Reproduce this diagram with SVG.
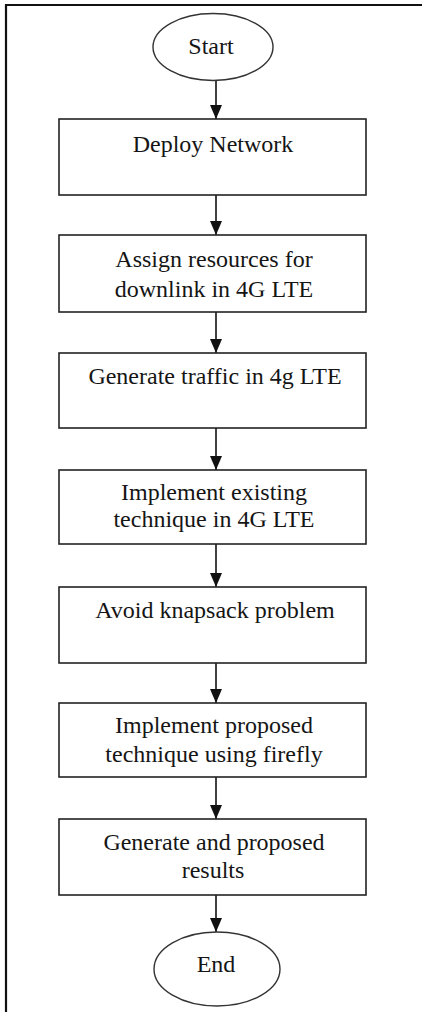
<svg xmlns="http://www.w3.org/2000/svg" width="422" height="1012" viewBox="0 0 422 1012">
  <style>
    .box { fill: #ffffff; stroke: #222222; stroke-width: 1.6; }
    .term { fill: #ffffff; stroke: #333333; stroke-width: 1.4; }
    .lbl { font-size: 24px; fill: #151515; text-anchor: middle; }
    .edge { stroke: #111111; stroke-width: 1.6; fill: none; marker-end: url(#head); }
    .frame { stroke: #111111; stroke-width: 2.2; fill: none; }
  </style>
  <defs>
    <!-- solid arrowhead, tip at the end of the line -->
    <marker id="head" markerUnits="userSpaceOnUse" markerWidth="14" markerHeight="12" refX="14" refY="6" orient="auto" viewBox="0 0 14 12">
      <path d="M0,0 L14,6 L0,12 Z" fill="#111111"/>
    </marker>
  </defs>

  <rect width="422" height="1012" fill="#ffffff"/>

  <!-- outer frame: top and left rules -->
  <path class="frame" d="M6,1012 L6,5 L422,5"/>

  <!-- connectors -->
  <g id="connectors">
    <line class="edge" x1="216" y1="80.5" x2="216" y2="119"/>
    <line class="edge" x1="216" y1="195" x2="216" y2="235"/>
    <line class="edge" x1="216" y1="312" x2="216" y2="353"/>
    <line class="edge" x1="216" y1="428" x2="216" y2="470"/>
    <line class="edge" x1="216" y1="544" x2="216" y2="587"/>
    <line class="edge" x1="216" y1="663" x2="216" y2="703"/>
    <line class="edge" x1="216" y1="777" x2="216" y2="819"/>
    <line class="edge" x1="216" y1="895" x2="216" y2="932"/>
  </g>

  <g font-family="'Liberation Serif', 'DejaVu Serif', serif">
    <g id="start">
      <ellipse class="term" cx="213" cy="47" rx="60" ry="33.5"/>
      <text class="lbl" x="211" y="54">Start</text>
    </g>

    <g id="deploy">
      <rect class="box" x="59" y="119" width="307" height="76"/>
      <text class="lbl" x="213" y="152">Deploy Network</text>
    </g>

    <g id="assign">
      <rect class="box" x="59" y="235" width="307" height="77"/>
      <text class="lbl" x="214" y="267">Assign resources for</text>
      <text class="lbl" x="214" y="297">downlink in 4G LTE</text>
    </g>

    <g id="traffic">
      <rect class="box" x="59" y="353" width="307" height="75"/>
      <text class="lbl" x="215" y="384">Generate traffic in 4g LTE</text>
    </g>

    <g id="existing">
      <rect class="box" x="59" y="470" width="307" height="74"/>
      <text class="lbl" x="214" y="500">Implement existing</text>
      <text class="lbl" x="214" y="527">technique in 4G LTE</text>
    </g>

    <g id="knapsack">
      <rect class="box" x="59" y="587" width="307" height="76"/>
      <text class="lbl" x="215" y="618">Avoid knapsack problem</text>
    </g>

    <g id="proposed">
      <rect class="box" x="59" y="703" width="307" height="74"/>
      <text class="lbl" x="214" y="733">Implement proposed</text>
      <text class="lbl" x="214" y="762">technique using firefly</text>
    </g>

    <g id="results">
      <rect class="box" x="59" y="819" width="307" height="76"/>
      <text class="lbl" x="214" y="850">Generate and proposed</text>
      <text class="lbl" x="213" y="878">results</text>
    </g>

    <g id="end">
      <ellipse class="term" cx="217" cy="969" rx="63" ry="37"/>
      <text class="lbl" x="216" y="972">End</text>
    </g>
  </g>
</svg>
